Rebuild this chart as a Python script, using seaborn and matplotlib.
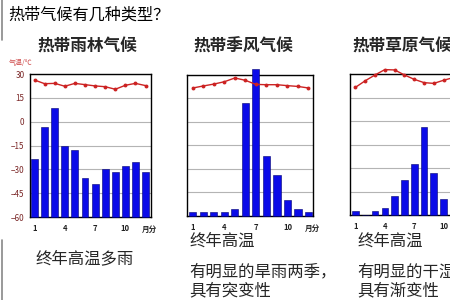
import matplotlib
matplotlib.use("Agg")
import matplotlib.pyplot as plt
import seaborn as sns
import pandas as pd

sns.set_style("white")
plt.rcParams['font.family'] = ['Noto Sans CJK SC', 'DejaVu Sans']

# ---- data ----
months = list(range(1, 13))
temp_ticks = [-60, -45, -30, -15, 0, 15, 30]
x_ticks = [1, 4, 7, 10]

rain_temp = [26.2, 23.9, 24.1, 22.3, 24.1, 23.3, 22.5, 22.0, 20.4, 22.9, 24.1, 22.7]
rain_prec = [182, 282, 342, 222, 212, 122, 104, 152, 142, 162, 172, 142]

mons_temp = [21.7, 23.0, 24.2, 25.7, 28.1, 26.6, 24.0, 23.8, 23.8, 23.2, 22.7, 21.7]
mons_prec = [13, 13, 13, 13, 22, 360, 469, 191, 132, 52, 22, 13]

sav_temp = [21.5, 25.7, 29.4, 32.8, 32.6, 29.4, 26.6, 24.5, 24.0, 26.0, 27.7, 25.0]
sav_prec = [13, 0, 13, 22, 62, 112, 162, 281, 133, 52, 13, 0]

title = "热带气候有几种类型？"
subtitles = ["热带雨林气候", "热带季风气候", "热带草原气候"]
notes = [["终年高温多雨"],
         ["终年高温", "有明显的旱雨两季，", "具有突变性"],
         ["终年高温", "有明显的干湿两季，", "具有渐变性"]]
ylabel = "气温/℃"
month_label = "月分"

W, H = 450, 300
fig = plt.figure(figsize=(4.5, 3), dpi=100)


def px_axes(l, t, r, b):
    return fig.add_axes([l / W, 1 - b / H, (r - l) / W, (b - t) / H])


BAR = '#0b0be8'
LINE = '#cc2222'


def climate(box, xlim, temp, prec, show_y):
    ax = px_axes(*box)
    ax.set_xlim(*xlim)
    ax.set_ylim(-60, 30)
    ax.set_yticks(temp_ticks)
    ax.grid(axis='y', color='#b4b4b4', lw=0.8)
    ax.grid(axis='x', visible=False)
    for s in ax.spines.values():
        s.set_color('black')
        s.set_linewidth(1.0)
    if show_y:
        ax.tick_params(axis='y', labelsize=5.8, labelcolor='#7a2626', length=0, pad=4)
    else:
        ax.tick_params(axis='y', labelleft=False, length=0)
    ax.tick_params(axis='x', length=0, pad=5)

    axb = ax.twinx()
    df = pd.DataFrame({'m': months, 'p': prec})
    sns.barplot(data=df, x='m', y='p', native_scale=True, ax=axb, color=BAR,
                saturation=1, width=0.68, edgecolor='#000070', linewidth=0.4,
                clip_on=False)
    axb.set_ylim(0, 450)
    axb.set_xlim(*xlim)
    axb.set_ylabel('')
    axb.set_xlabel('')
    axb.set_yticks([])
    for s in axb.spines.values():
        s.set_visible(False)

    axl = ax.twinx()
    dt = pd.DataFrame({'m': months, 't': temp})
    sns.lineplot(data=dt, x='m', y='t', ax=axl, color=LINE, lw=1.0, marker='o',
                 markersize=2.8, markeredgewidth=0, clip_on=False)
    axl.set_ylim(-60, 30)
    axl.set_xlim(*xlim)
    axl.set_ylabel('')
    axl.set_xlabel('')
    axl.set_yticks([])
    for s in axl.spines.values():
        s.set_visible(False)
    ax.set_xticks(x_ticks)
    ax.set_xticklabels([str(v) for v in x_ticks], fontsize=5.5, fontweight='bold', color='#222222')
    axb.tick_params(axis='x', labelbottom=False, length=0)
    axl.tick_params(axis='x', labelbottom=False, length=0)
    ax.text(12.35, -0.085, month_label, transform=ax.get_xaxis_transform(),
            fontsize=5.5, fontweight='bold', color='#222222', ha='center', va='center')
    return ax


ax1 = climate((30, 74, 151, 217), (0.55, 12.54), rain_temp, rain_prec, True)
ax2 = climate((187, 75, 313, 216), (0.45, 12.43), mons_temp, mons_prec, False)
ax3 = climate((350, 74, 468, 215), (0.44, 12.5), sav_temp, sav_prec, False)

ax1.text(-0.08, 1.08, ylabel, transform=ax1.transAxes, fontsize=5, color='#d05050',
         ha='center', va='center')


def ftext(x, y, s, **kw):
    fig.text(x / W, 1 - y / H, s, **kw)


ftext(8, 15, title, fontsize=11.6, ha='left', va='center', color='black')
ftext(87, 47, subtitles[0], fontsize=12, fontweight='bold', ha='center', va='center')
ftext(243, 47, subtitles[1], fontsize=12, fontweight='bold', ha='center', va='center')
ftext(352, 47, subtitles[2], fontsize=12, fontweight='bold', ha='left', va='center')

ftext(35, 259, notes[0][0], fontsize=11.8, fontweight='light', ha='left', va='center')
for i, line in enumerate(notes[1]):
    ftext(189, [241, 272, 291][i], line, fontsize=11.8, fontweight='light', ha='left', va='center')
for i, line in enumerate(notes[2]):
    ftext(357, [241, 272, 291][i], line, fontsize=11.8, fontweight='light', ha='left', va='center')

# thin frame marks at the left edge
fig.add_artist(plt.Line2D([1.5 / W, 1.5 / W], [1, 1 - 40 / H], color='#888888', lw=1.2))
fig.add_artist(plt.Line2D([1.5 / W, 1.5 / W], [1 - 240 / H, 0], color='#888888', lw=1.2))

fig.savefig('out.png', dpi=100)
